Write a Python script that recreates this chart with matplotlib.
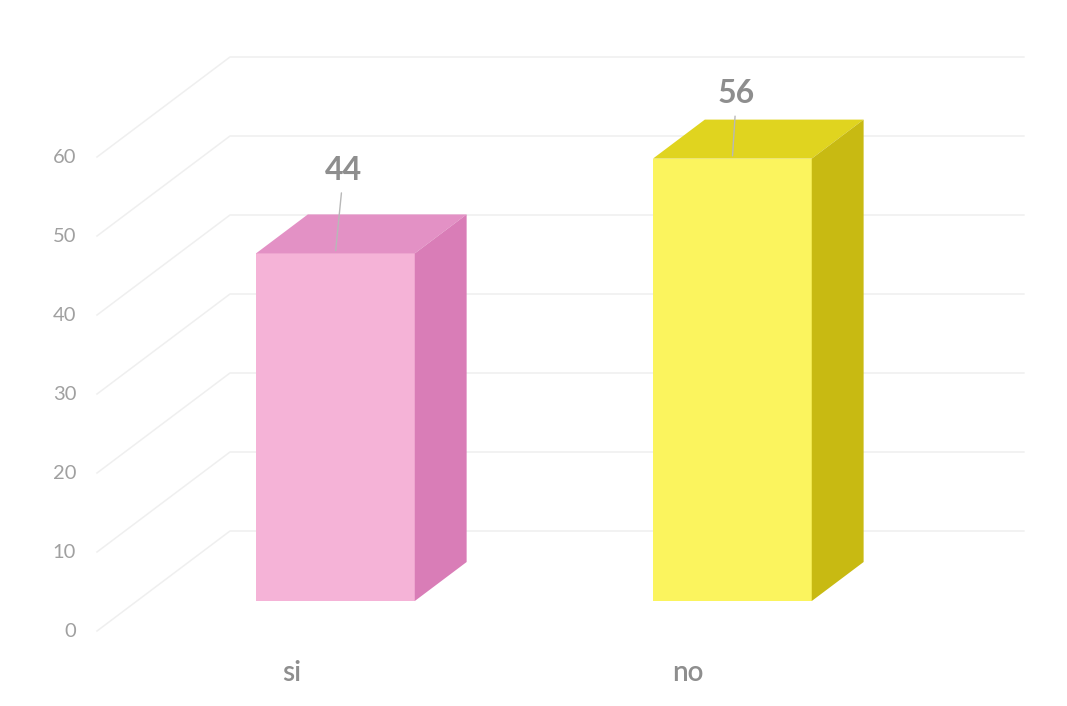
import matplotlib.pyplot as plt
from matplotlib.patches import Polygon

plt.rcParams['font.family'] = ['Lato', 'DejaVu Sans']

# Data
categories = ["si", "no"]
values = [44, 56]
yticks = [0, 10, 20, 30, 40, 50, 60]

# Colours of the 3D faces
front_colors = ["#f5b3d7", "#fbf45e"]
top_colors = ["#e391c5", "#e0d41f"]
side_colors = ["#d97db7", "#c8ba12"]
grid_color = "#efefef"
text_gray = "#8e8e8e"

# fake 3D: depth z runs from 0 (front of floor) to 1 (back wall)
depth_x = 0.335
depth_y = 12.66
bar_front, bar_back = 0.3, 0.69
half_w = 0.2
label_offsets = [(6, 60), (3, 47)]  # points, per bar


def proj(x, y, z):
    return x + z * depth_x, y + z * depth_y


fig = plt.figure(figsize=(10.67, 7.06), dpi=100)
ax = fig.add_axes([0.0909, 0.1062, 0.7441, 0.6714])
ax.set_xlim(-0.5, 1.5)
ax.set_ylim(0, 60)
ax.axis('off')

# gridlines: slanted floor part + back wall
for t in yticks:
    x0, y0 = proj(-0.5, t, 0)
    x1, y1 = proj(-0.5, t, 1)
    x2, y2 = proj(1.5, t, 1)
    ax.plot([x0, x1, x2], [y0, y1, y2], color=grid_color, lw=1.1, clip_on=False, zorder=1)
    ax.annotate(str(t), (x0, y0), xytext=(-15, 0), textcoords='offset points',
                ha='right', va='center', fontsize=14.5, color="#a0a0a0")

# bars
for i, (cat, v) in enumerate(zip(categories, values)):
    l, r = i - half_w, i + half_w
    front = [proj(l, 0, bar_front), proj(r, 0, bar_front),
             proj(r, v, bar_front), proj(l, v, bar_front)]
    top = [proj(l, v, bar_front), proj(r, v, bar_front),
           proj(r, v, bar_back), proj(l, v, bar_back)]
    side = [proj(r, 0, bar_front), proj(r, 0, bar_back),
            proj(r, v, bar_back), proj(r, v, bar_front)]
    ax.add_patch(Polygon(front, closed=True, fc=front_colors[i], ec='none', zorder=3, clip_on=False))
    ax.add_patch(Polygon(top, closed=True, fc=top_colors[i], ec='none', zorder=3, clip_on=False))
    ax.add_patch(Polygon(side, closed=True, fc=side_colors[i], ec='none', zorder=3, clip_on=False))

    # data label with leader line
    ax.annotate(str(v), proj(i, v, bar_front), xytext=label_offsets[i],
                textcoords='offset points', ha='center', va='center',
                fontsize=23, fontweight='bold', color=text_gray, zorder=5,
                arrowprops=dict(arrowstyle='-', color="#b8b8b8", lw=1,
                                shrinkA=4, shrinkB=2))

    # category label
    ax.annotate(cat, (i, 0), xytext=(-3, -30), textcoords='offset points',
                ha='center', va='center', fontsize=20, fontweight='semibold',
                color=text_gray)

fig.savefig("out.png", dpi=100)
